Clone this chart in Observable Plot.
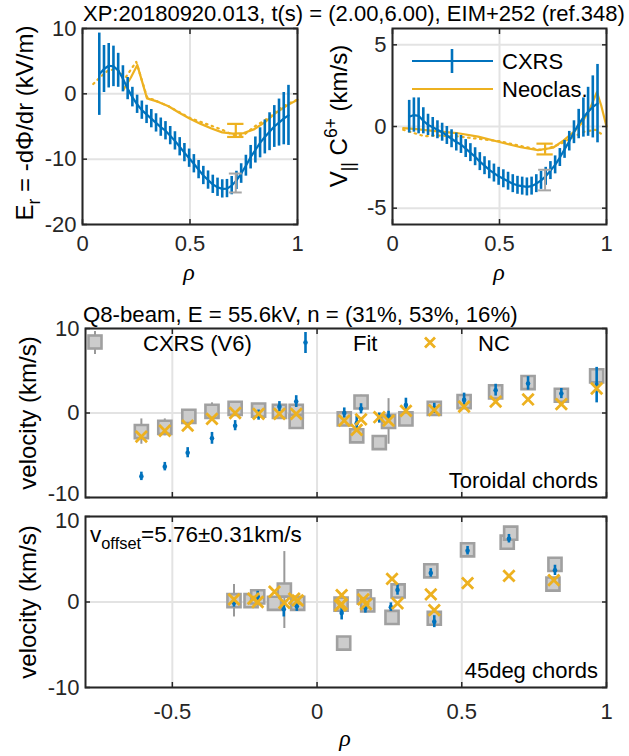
<!DOCTYPE html>
<html><head><meta charset="utf-8">
<script src="https://cdn.jsdelivr.net/npm/d3@7"></script>
<script src="https://cdn.jsdelivr.net/npm/@observablehq/plot@0.6"></script>
<style>
html,body{margin:0;padding:0;background:#fff;}
#wrap{position:relative;width:629px;height:756px;overflow:hidden;background:#fff;}
#wrap svg{position:absolute;left:0;top:0;}
</style></head><body><div id="wrap"></div>
<script>
const FONT = '"Liberation Sans", Arial, Helvetica, sans-serif';
const BLUE = "#0072BD", YELLOW = "#EDB120", GRAYBAR = "#A6A6A6", SQF = "#CCCCCC", SQS = "#A0A0A0", AX = "#262626", GRID = "#E3E3E3";

// ---------------- profile data (top panels) ----------------
const rhoProf = [0.078,0.100,0.122,0.144,0.166,0.188,0.210,0.232,0.254,0.276,0.298,0.320,0.342,0.364,0.386,0.408,0.430,0.452,0.474,0.496,0.518,0.540,0.562,0.584,0.606,0.628,0.650,0.672,0.694,0.716,0.738,0.760,0.782,0.804,0.826,0.848,0.870,0.892,0.914,0.936,0.958];
const erFit = [3.0,3.8,4.3,4.2,3.6,2.3,0.8,-0.5,-1.6,-2.5,-3.15,-3.8,-4.45,-5.1,-5.65,-6.4,-7.2,-8.1,-9.0,-9.85,-10.7,-11.6,-12.5,-13.2,-13.85,-14.3,-14.55,-14.5,-14.05,-13.25,-12.2,-11.0,-9.7,-8.6,-7.5,-6.6,-5.8,-5.0,-4.4,-3.8,-3.3];
const erErr = [6.3,3.6,3.4,3.1,2.6,2.0,1.7,1.5,1.4,1.4,1.4,1.4,1.4,1.4,1.4,1.4,1.4,1.4,1.4,1.4,1.4,1.4,1.4,1.4,1.4,1.4,1.4,1.4,1.4,1.4,1.5,1.6,1.8,2.0,2.3,2.6,2.9,3.2,3.6,4.0,4.6];
const vparFit = [0.6,0.7,0.65,0.35,0.1,-0.05,-0.2,-0.35,-0.55,-0.75,-0.95,-1.1,-1.35,-1.6,-1.85,-2.15,-2.4,-2.65,-2.85,-3.05,-3.2,-3.35,-3.5,-3.6,-3.65,-3.7,-3.65,-3.5,-3.3,-3.05,-2.7,-2.35,-1.9,-1.4,-0.9,-0.35,0.15,0.55,0.9,1.2,1.4];
const vparErr = [1.0,1.05,1.1,0.8,0.65,0.6,0.55,0.55,0.55,0.55,0.55,0.55,0.55,0.55,0.55,0.55,0.55,0.55,0.55,0.55,0.55,0.55,0.55,0.55,0.55,0.55,0.55,0.55,0.55,0.55,0.55,0.55,0.55,0.55,0.6,0.7,0.9,1.2,1.5,1.9,2.4];

const rhoErNC = [0.19,0.225,0.255,0.30,0.35,0.40,0.45,0.50,0.55,0.60,0.65,0.70,0.75,0.80,0.85,0.90,0.95,1.00];
const erNC = [0.6,2.5,4.4,-0.7,-1.2,-1.9,-2.9,-3.8,-4.6,-5.3,-5.9,-6.1,-6.0,-5.4,-4.3,-2.9,-1.8,-0.9];
const rhoErNCdot = [0.05,0.08,0.12,0.16,0.20,0.25,0.30,0.40,0.50,0.60,0.65,0.70,0.75,0.80,0.85,0.90,0.95,1.0];
const erNCdot = [1.5,2.5,3.6,3.8,2.5,4.9,-0.5,-1.9,-3.7,-4.9,-5.5,-6.3,-6.3,-5.0,-4.0,-2.6,-1.6,-0.9];

const rhoVNC = [0.05,0.10,0.20,0.30,0.40,0.50,0.60,0.68,0.75,0.80,0.85,0.88,0.92,0.955,0.975,1.0];
const vNC = [-0.1,-0.15,-0.28,-0.4,-0.62,-0.95,-1.27,-1.45,-1.3,-0.85,-0.3,0.15,1.0,2.1,1.3,0.0];
const rhoVNCdot = [0.05,0.10,0.15,0.20,0.30,0.40,0.50,0.60,0.70,0.78,0.85,0.90,0.95,0.99];
const vNCdot = [-0.2,-0.4,-0.6,-0.55,-0.6,-0.75,-0.9,-1.2,-1.45,-1.1,-0.6,-0.3,-0.2,-0.6];

const refRho = [0.713];
const erRefCxrs = [-13.65], erRefCxrsErr = [1.45];
const erRefNC = [-5.6], erRefNCErr = [1.0];
const vRefCxrs = [-3.28], vRefCxrsErr = [0.63];
const vRefNC = [-1.38], vRefNCErr = [0.33];

// ---------------- toroidal chords ----------------
const torRhoC = [-0.607,-0.526,-0.443,-0.363,-0.283,-0.202,-0.130,-0.072,-0.072,0.094,0.137,0.152,0.215,0.247,0.307,0.405,0.508,0.617,0.729,0.844,0.966];
const torCxrs = [-2.2,-1.7,-0.4,0.2,0.55,0.35,0.2,0.2,-1.0,-0.7,-2.7,1.3,-3.5,-1.0,-0.7,0.55,1.35,2.5,3.6,2.1,4.4];
const torCxrsErr = [1.5,1.0,0.8,1.0,0.8,0.6,0.6,0.6,0.8,0.6,0.7,0.8,0.6,2.7,0.6,0.6,0.7,0.7,0.7,0.7,0.8];
const torRho = [-0.607,-0.526,-0.447,-0.363,-0.283,-0.202,-0.130,-0.072,0.094,0.137,0.152,0.215,0.247,0.307,0.405,0.508,0.617,0.729,0.844,0.966];
const torNC = [-2.8,-2.1,-1.5,-0.7,0.0,-0.1,-0.1,-0.1,-0.9,-2.0,-0.75,-0.5,-0.9,0.25,0.35,0.75,1.35,1.6,1.05,2.9];
const torFit = [-7.5,-6.35,-4.7,-3.0,-1.5,-0.25,0.75,1.35,0.0,-1.2,0.5,-0.6,-0.4,0.95,0.55,1.55,2.7,3.5,2.3,3.3];
const torFitErr = [0.5,0.5,0.6,0.7,0.6,0.6,0.6,0.7,0.6,0.8,0.6,0.6,0.6,0.8,0.6,0.8,0.7,0.8,0.6,2.1];

// ---------------- 45deg chords ----------------
const obRhoC = [-0.287,-0.228,-0.205,-0.147,-0.113,-0.067,0.083,0.092,0.163,0.175,0.259,0.280,0.393,0.405,0.520,0.657,0.669,0.815,0.822];
const obCxrs = [0.15,0.15,0.6,-0.15,1.4,-0.15,-0.25,-4.8,0.6,-0.35,-1.8,1.3,3.65,-1.9,6.1,7.0,8.05,2.1,4.4];
const obCxrsErr = [1.9,0.5,0.6,0.6,4.5,0.6,0.5,0.5,0.5,0.5,0.5,0.5,0.5,0.5,0.5,0.5,0.5,0.5,0.5];
const obRhoNC = [-0.287,-0.220,-0.205,-0.147,-0.113,-0.079,-0.067,0.085,0.085,0.080,0.169,0.160,0.259,0.278,0.393,0.405,0.520,0.663,0.818];
const obNC = [0.3,0.4,0.0,1.2,-0.1,0.4,0.2,0.8,-0.25,-0.4,-0.25,0.3,2.7,-0.15,0.9,-0.95,2.2,3.05,2.55];
const obRhoFit = [-0.287,-0.205,-0.115,-0.070,0.085,0.167,0.255,0.278,0.393,0.405,0.520,0.663,0.822];
const obFit = [-0.1,0.65,-0.85,-0.5,-1.3,-0.7,-0.6,1.4,3.4,-2.3,6.0,7.4,3.7];
const obFitErr = [0.5,0.6,0.9,0.6,0.8,0.6,0.5,0.6,0.5,0.7,0.5,0.5,0.6];

// ---------------- ticks ----------------
const xTicksTop = [0, 0.5, 1];
const yTicksEr = [-20, -10, 0, 10];
const yTicksV = [-5, 0, 5];
const xTicksBot = [-0.5, 0, 0.5, 1];
const yTicksBot = [-10, 0, 10];

// ---------------- helpers ----------------
const zip = (xs, ys, es) => xs.map((x, i) => ({x, y: ys[i], e: es ? es[i] : 0}));
const fmt = d => String(d);

function axesMarks(xT, yT, opts) {
  const {showX = true, xPad = 11, yLabelGroups = [[yT, 0]]} = opts;
  const t = {tickSize: -5, tickFormat: () => "", stroke: AX, strokeWidth: 1.5, label: null};
  return [
    Plot.frame({stroke: AX, strokeWidth: 2}),
    Plot.axisX(xT, {anchor: "bottom", ...t}),
    Plot.axisX(xT, {anchor: "top", ...t}),
    Plot.axisY(yT, {anchor: "left", ...t}),
    Plot.axisY(yT, {anchor: "right", ...t}),
    showX ? Plot.axisX(xT, {anchor: "bottom", tickSize: 0, tickPadding: xPad, tickFormat: fmt, label: null}) : null,
    ...yLabelGroups.map(([ticks, dy]) => Plot.axisY(ticks, {anchor: "left", tickSize: 0, tickPadding: 6, tickFormat: fmt, label: null, dy}))
  ];
}
function gridMarks(xT, yT) {
  return [
    Plot.gridX(xT, {stroke: GRID, strokeOpacity: 1, strokeWidth: 2}),
    Plot.gridY(yT, {stroke: GRID, strokeOpacity: 1, strokeWidth: 2})
  ];
}
function panel(box, xDomain, yDomain, xT, yT, opts, marks) {
  const [l, r, t, b] = box;
  return Plot.plot({
    width: 629, height: 756,
    marginLeft: l, marginRight: 629 - r, marginTop: t, marginBottom: 756 - b,
    style: {background: "transparent", fontFamily: FONT, fontSize: "22px", color: AX, overflow: "visible"},
    x: {domain: xDomain}, y: {domain: yDomain},
    marks: [...gridMarks(xT, yT), ...marks, ...axesMarks(xT, yT, opts)]
  });
}
function errbar(data, color, w, capHalf) {
  const m = [Plot.ruleX(data, {x: "x", y1: d => d.y - d.e, y2: d => d.y + d.e, stroke: color, strokeWidth: w})];
  if (capHalf) {
    m.push(Plot.ruleY(data, {y: d => d.y - d.e, x1: d => d.x - capHalf, x2: d => d.x + capHalf, stroke: color, strokeWidth: w}));
    m.push(Plot.ruleY(data, {y: d => d.y + d.e, x1: d => d.x - capHalf, x2: d => d.x + capHalf, stroke: color, strokeWidth: w}));
  }
  return m;
}

const wrap = document.getElementById("wrap");

// ---- Panel 1: Er ----
const erProf = zip(rhoProf, erFit, erErr);
wrap.appendChild(panel([82, 297, 28, 224], [0, 1], [-20, 10], xTicksTop, yTicksEr, {}, [
  Plot.line(zip(rhoErNCdot, erNCdot), {x: "x", y: "y", stroke: YELLOW, strokeWidth: 2.2, strokeDasharray: "1.5,4.5", strokeLinecap: "round"}),
  Plot.line(zip(rhoErNC, erNC), {x: "x", y: "y", stroke: YELLOW, strokeWidth: 2.2}),
  ...errbar(erProf, BLUE, 2.6, 0),
  Plot.line(erProf, {x: "x", y: "y", stroke: BLUE, strokeWidth: 2.2}),
  ...errbar(zip(refRho, erRefCxrs, erRefCxrsErr), GRAYBAR, 2, 0.03),
  ...errbar(zip(refRho, erRefNC, erRefNCErr), YELLOW, 2.2, 0.038)
]));

// ---- Panel 2: V parallel ----
const vProf = zip(rhoProf, vparFit, vparErr);
wrap.appendChild(panel([392, 606, 28, 224], [0, 1], [-6, 6], xTicksTop, yTicksV, {}, [
  Plot.line(zip(rhoVNCdot, vNCdot), {x: "x", y: "y", stroke: YELLOW, strokeWidth: 2.2, strokeDasharray: "1.5,4.5", strokeLinecap: "round"}),
  Plot.line(zip(rhoVNC, vNC), {x: "x", y: "y", stroke: YELLOW, strokeWidth: 2.2}),
  ...errbar(vProf, BLUE, 2.6, 0),
  Plot.line(vProf, {x: "x", y: "y", stroke: BLUE, strokeWidth: 2.2}),
  ...errbar(zip(refRho, vRefCxrs, vRefCxrsErr), GRAYBAR, 2, 0.03),
  ...errbar(zip(refRho, vRefNC, vRefNCErr), YELLOW, 2.2, 0.038)
]));

// ---- Panel 3 / 4: chords ----
function chordMarks(rc, vc, ec, rn, vn, rf, vf, ef) {
  const C = zip(rc, vc, ec), N = zip(rn, vn), F = zip(rf, vf, ef);
  return [
    ...errbar(C, "#999999", 2, 0),
    Plot.dot(C, {x: "x", y: "y", symbol: "square", r: 7.4, fill: SQF, stroke: SQS, strokeWidth: 2.6}),
    ...errbar(F, BLUE, 2.6, 0),
    Plot.dot(F, {x: "x", y: "y", r: 2.3, fill: BLUE}),
    Plot.dot(N, {x: "x", y: "y", symbol: "times", r: 5.2, stroke: YELLOW, strokeWidth: 2.8})
  ];
}
wrap.appendChild(panel([85, 606, 328, 497], [-0.8, 1], [-10, 10], xTicksBot, yTicksBot,
  {showX: false, yLabelGroups: [[[0, 10], 0], [[-10], -4]]},
  chordMarks(torRhoC, torCxrs, torCxrsErr, torRho, torNC, torRho, torFit, torFitErr)));
wrap.appendChild(panel([85, 606, 516, 687], [-0.8, 1], [-10, 10], xTicksBot, yTicksBot,
  {showX: true, xPad: 16, yLabelGroups: [[[-10, 0], 0], [[10], 4]]},
  chordMarks(obRhoC, obCxrs, obCxrsErr, obRhoNC, obNC, obRhoFit, obFit, obFitErr)));

// ---------------- overlay: titles, labels, legends ----------------
const ov = d3.select(wrap).append("svg").attr("width", 629).attr("height", 756);
function rich(x, y, parts, {size = 22, anchor = "start", rotate = 0, fill = "#000", family = FONT, italic = false} = {}) {
  const t = ov.append("text").attr("x", x).attr("y", y).attr("font-size", size)
    .attr("text-anchor", anchor).attr("fill", fill).attr("font-family", family);
  if (italic) t.attr("font-style", "italic");
  if (rotate) t.attr("transform", `rotate(${rotate},${x},${y})`);
  let cur = 0;
  for (const p of (typeof parts === "string" ? [[parts, 0]] : parts)) {
    const [s, kind] = p;
    const target = kind === "sub" ? 0.3 * size : kind === "sup" ? -0.42 * size : 0;
    const ts = t.append("tspan").text(s).attr("dy", target - cur);
    if (kind) ts.attr("font-size", size * 0.73);
    cur = target;
  }
  return t;
}
// titles
rich(83, 21, "XP:20180920.013, t(s) = (2.00,6.00), EIM+252 (ref.348)", {size: 22});
rich(83, 322, "Q8-beam, E = 55.6kV, n = (31%, 53%, 16%)", {size: 22.2});
// y labels
rich(33, 123, [["E", 0], ["r", "sub"], [" = -d\u03A6/dr (kV/m)", 0]], {size: 24, anchor: "middle", rotate: -90});
rich(347, 116, [["V", 0], ["||", "sub"], [" C", 0], ["6+", "sup"], [" (km/s)", 0]], {size: 24, anchor: "middle", rotate: -90});
rich(36, 413, "velocity (km/s)", {size: 24, anchor: "middle", rotate: -90});
rich(36, 602, "velocity (km/s)", {size: 24, anchor: "middle", rotate: -90});
// x labels
const rhoFont = '"Liberation Serif", "DejaVu Serif", serif';
rich(189, 280, "\u03C1", {size: 24, anchor: "middle", family: rhoFont, italic: true});
rich(499, 280, "\u03C1", {size: 24, anchor: "middle", family: rhoFont, italic: true});
rich(345, 746, "\u03C1", {size: 24, anchor: "middle", family: rhoFont, italic: true});
// panel annotations
rich(598, 488, "Toroidal chords", {anchor: "end"});
rich(598, 678, "45deg chords", {anchor: "end"});
rich(90, 542, [["v", 0], ["offset", "sub"], ["=5.76\u00B10.31km/s", 0]], {size: 22.5});

// legend top-right
ov.append("line").attr("x1", 412).attr("x2", 493).attr("y1", 61).attr("y2", 61).attr("stroke", BLUE).attr("stroke-width", 2.2);
ov.append("line").attr("x1", 452).attr("x2", 452).attr("y1", 49).attr("y2", 73).attr("stroke", BLUE).attr("stroke-width", 2.6);
ov.append("line").attr("x1", 412).attr("x2", 493).attr("y1", 89).attr("y2", 89).attr("stroke", YELLOW).attr("stroke-width", 2.2);
rich(502, 69, "CXRS");
rich(502, 97, "Neoclas.");

// legend middle panel
ov.append("line").attr("x1", 95).attr("x2", 95).attr("y1", 331).attr("y2", 354).attr("stroke", "#999999").attr("stroke-width", 2);
ov.append("rect").attr("x", 88.5).attr("y", 335.5).attr("width", 13).attr("height", 13).attr("fill", SQF).attr("stroke", SQS).attr("stroke-width", 2.6);
rich(143, 351, "CXRS (V6)");
ov.append("line").attr("x1", 305.5).attr("x2", 305.5).attr("y1", 332).attr("y2", 353).attr("stroke", BLUE).attr("stroke-width", 2.6);
ov.append("circle").attr("cx", 305.5).attr("cy", 342.5).attr("r", 2.3).attr("fill", BLUE);
rich(353, 351, "Fit");
ov.append("path").attr("d", "M425,337.5L435,347.5M425,347.5L435,337.5").attr("stroke", YELLOW).attr("stroke-width", 2.8);
rich(478, 351, "NC");
</script></body></html>
